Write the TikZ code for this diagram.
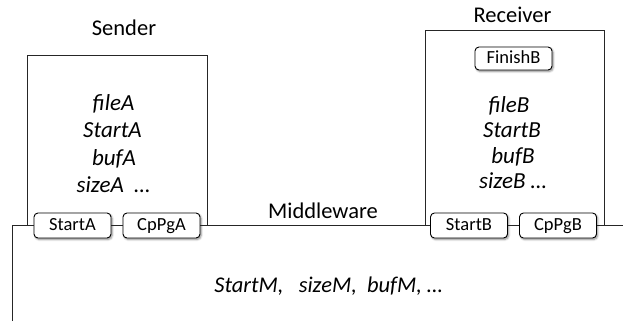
\documentclass[tikz,border=0pt]{standalone}
\usepackage{fontspec}
\setmainfont{Carlito}
\usetikzlibrary{shadows.blur}
\begin{document}
\begin{tikzpicture}[x=1pt,y=-1pt,
  wire/.style={draw=black!85, line width=0.9pt},
  btn/.style={draw=black, line width=0.9pt, rounded corners=4pt, fill=white,
    minimum width=77pt, minimum height=25pt, inner sep=0pt,
    font=\fontsize{18.5}{20}\selectfont, text height=12pt, text depth=3pt,
    blur shadow={shadow xshift=1.2pt, shadow yshift=-1.5pt, shadow blur steps=6, shadow opacity=45}},
  lbl/.style={font=\fontsize{22.5}{26}\selectfont, anchor=base, inner sep=0pt},
  var/.style={font=\fontsize{23}{26}\selectfont\itshape, anchor=base, inner sep=0pt}]
\useasboundingbox (0,0) rectangle (623,322);
% coordinates
\coordinate (corner) at (12,225.5);
\coordinate (bottom) at (12,321);
\coordinate (rightend) at (623,225.5);
% boxes
\draw[wire] (27,225.5) |- (207,55) -- (207,225.5);
\draw[wire] (425,225.5) |- (604,30) -- (604,225.5);
% buttons
\node[btn] (startA) at (72.5,225.5) {StartA};
\node[btn] (cppgA) at (161.5,225.5) {CpPgA};
\node[btn] (startB) at (469,225.5) {StartB};
\node[btn] (cppgB) at (558,225.5) {CpPgB};
\node[btn, minimum height=23pt] (finishB) at (513.5,58.5) {FinishB};
% middleware line
\draw[wire] (bottom) -- (corner) -- (startA.west);
\draw[wire] (startA.east) -- (cppgA.west);
\draw[wire] (cppgA.east) -- (startB.west);
\draw[wire] (startB.east) -- (cppgB.west);
\draw[wire] (cppgB.east) -- (rightend);
% labels
\node[lbl] (sender) at (124,35) {Sender};
\node[lbl] (receiver) at (512.5,22) {Receiver};
\node[lbl] (middleware) at (323,218) {Middleware};
% sender variables
\node[var] (fileA) at (113.5,110) {fileA};
\node[var] (startAv) at (112.5,137) {StartA};
\node[var] (bufA) at (114,165) {bufA};
\node[var] (sizeA) at (113.5,192) {sizeA\ \ …};
% receiver variables
\node[var] (fileB) at (509,112) {fileB};
\node[var] (startBv) at (512,137) {StartB};
\node[var] (bufB) at (513,163) {bufB};
\node[var] (sizeB) at (513,188) {sizeB …};
% middleware variables
\node[var, font=\fontsize{22.5}{24}\selectfont\itshape] (mvars) at (328.5,292) {StartM,\ \ \ sizeM,\ \ bufM,\ …};
\end{tikzpicture}
\end{document}
